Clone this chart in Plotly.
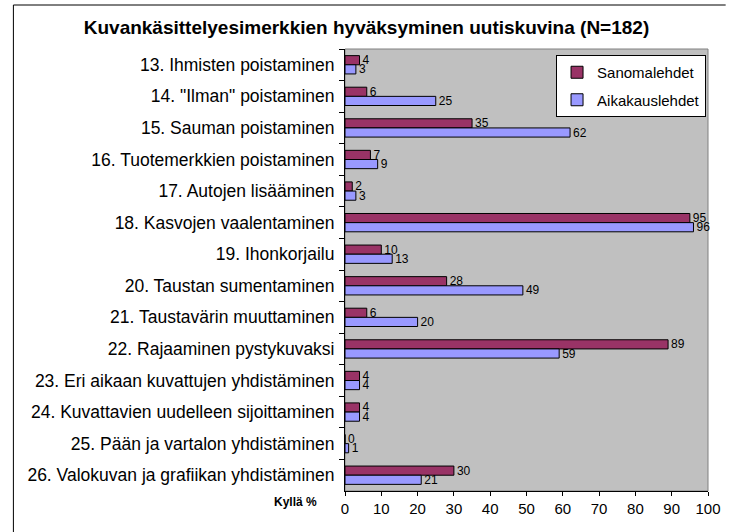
import plotly.graph_objects as go

categories = [
    "13. Ihmisten poistaminen",
    "14. \"Ilman\" poistaminen",
    "15. Sauman poistaminen",
    "16. Tuotemerkkien poistaminen",
    "17. Autojen lisääminen",
    "18. Kasvojen vaalentaminen",
    "19. Ihonkorjailu",
    "20. Taustan sumentaminen",
    "21. Taustavärin muuttaminen",
    "22. Rajaaminen pystykuvaksi",
    "23. Eri aikaan kuvattujen yhdistäminen",
    "24. Kuvattavien uudelleen sijoittaminen",
    "25. Pään ja vartalon yhdistäminen",
    "26. Valokuvan ja grafiikan yhdistäminen",
]
sanomalehdet = [4, 6, 35, 7, 2, 95, 10, 28, 6, 89, 4, 4, 0, 30]
aikakauslehdet = [3, 25, 62, 9, 3, 96, 13, 49, 20, 59, 4, 4, 1, 21]
x_ticks = [0, 10, 20, 30, 40, 50, 60, 70, 80, 90, 100]

W, H = 733, 532
L, R, T, B = 345, 18, 49, 41
pw, ph = W - L - R, H - T - B

font = "Liberation Sans, Arial, sans-serif"

fig = go.Figure()
fig.add_trace(go.Bar(
    y=categories, x=sanomalehdet, name="Sanomalehdet", orientation="h",
    legendgroup="a",
    marker=dict(color="#993366", line=dict(color="black", width=1)),
    text=[str(v) for v in sanomalehdet], textposition="outside",
    constraintext="none",
    textfont=dict(size=12, color="black", family=font), cliponaxis=False,
))
fig.add_trace(go.Bar(
    y=categories, x=aikakauslehdet, name="Aikakauslehdet", orientation="h",
    legendgroup="b",
    marker=dict(color="#9999FF", line=dict(color="black", width=1)),
    text=[str(v) for v in aikakauslehdet], textposition="outside",
    constraintext="none",
    textfont=dict(size=12, color="black", family=font), cliponaxis=False,
))

def px_x(p):
    return (p - L) / pw

def px_y(p):
    return 1 - (p - T) / ph

shapes = [
    dict(type="rect", xref="paper", yref="paper", x0=0, x1=1, y0=0, y1=1,
         line=dict(color="#808080", width=1), layer="below"),
    dict(type="line", xref="paper", yref="paper", x0=px_x(7), x1=px_x(7),
         y0=px_y(5), y1=px_y(532), line=dict(color="black", width=1)),
    dict(type="line", xref="paper", yref="paper", x0=px_x(7), x1=px_x(733),
         y0=px_y(5), y1=px_y(5), line=dict(color="black", width=1)),
]

fig.update_layout(
    width=W, height=H,
    margin=dict(l=L, r=R, t=T, b=B, pad=0),
    paper_bgcolor="white", plot_bgcolor="#C0C0C0",
    barmode="group", bargap=0.42, bargroupgap=0,
    font=dict(family=font, color="black"),
    title=dict(text="<b>Kuvankäsittelyesimerkkien hyväksyminen uutiskuvina (N=182)</b>",
               x=0.5, xref="container", xanchor="center",
               y=1 - 27 / H, yanchor="middle",
               font=dict(size=19, family=font)),
    showlegend=True,
    legend=dict(x=px_x(713), y=px_y(55), xanchor="right", yanchor="top",
                bgcolor="white", bordercolor="black", borderwidth=1,
                font=dict(size=15, family=font), traceorder="grouped",
                itemwidth=30, tracegroupgap=5),
    shapes=shapes,
    annotations=[dict(text="<b>Kyllä %</b>", xref="paper", yref="paper",
                      x=px_x(319), y=px_y(502), xanchor="right", yanchor="middle",
                      showarrow=False, font=dict(size=12, family=font))],
)
fig.update_xaxes(range=[0, 100], tickvals=x_ticks, ticks="outside", ticklen=4,
                 tickcolor="black", showline=True, linecolor="black", linewidth=1,
                 showgrid=False, zeroline=False, tickfont=dict(size=15, family=font),
                 fixedrange=True)
fig.update_yaxes(autorange="reversed", ticks="outside", tickson="boundaries", ticklen=5,
                 tickcolor="black", showline=True, linecolor="black", linewidth=1,
                 showgrid=False, tickfont=dict(size=17.5, family=font),
                 ticklabelstandoff=6, fixedrange=True)

fig.write_html(
    "out.html",
    config={"displayModeBar": False},
    post_script="document.body.style.margin='0';document.body.style.overflow='hidden';",
)
